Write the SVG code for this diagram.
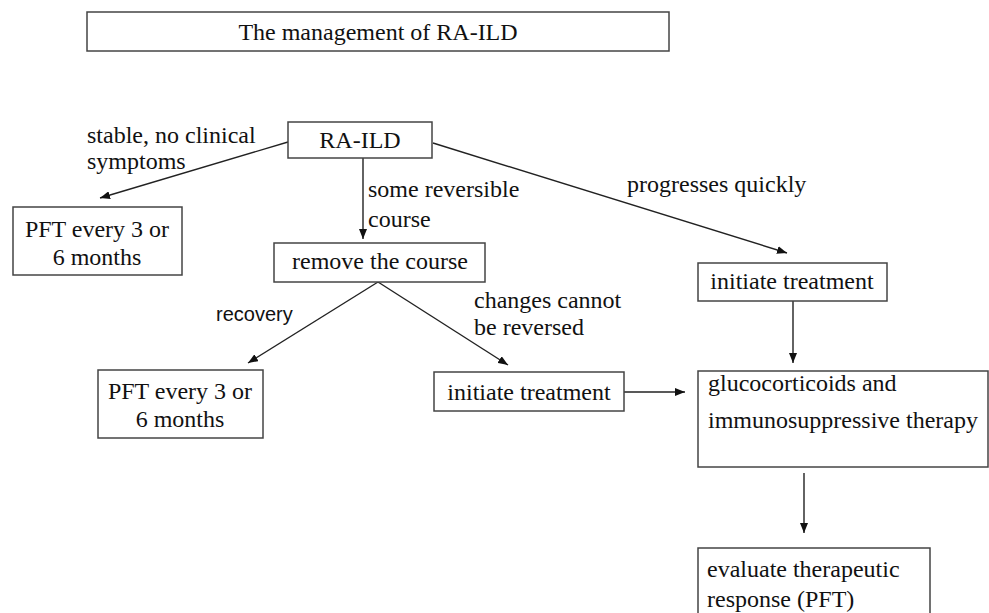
<svg xmlns="http://www.w3.org/2000/svg" width="989" height="613" viewBox="0 0 989 613">
<defs>
<style>
.box{fill:#fff;stroke:#444;stroke-width:1.5}
.t{font-family:"Liberation Serif","Times New Roman",serif;font-size:24px;fill:#111}
.m{text-anchor:middle}
.s{font-family:"Liberation Sans",Arial,sans-serif;font-size:20px;fill:#111}
.c{stroke:#222;stroke-width:1.4;fill:none;marker-end:url(#ah)}
</style>
<marker id="ah" markerUnits="userSpaceOnUse" markerWidth="10" markerHeight="8" refX="10" refY="4" orient="auto">
<path d="M0,0 L10,4 L0,8 z" fill="#111"/>
</marker>
</defs>
<rect width="989" height="613" fill="#fff"/>
<g id="title">
<rect class="box" x="87" y="12" width="582" height="39"/>
<text class="t m" x="378" y="40">The management of RA-ILD</text>
</g>
<g id="connectors">
<line class="c" x1="288" y1="142" x2="100" y2="198"/>
<line class="c" x1="363" y1="158" x2="363" y2="239"/>
<line class="c" x1="433" y1="143" x2="787" y2="253"/>
<line class="c" x1="378" y1="282" x2="248" y2="363"/>
<line class="c" x1="378" y1="282" x2="508" y2="365"/>
<line class="c" x1="624" y1="392" x2="685" y2="392"/>
<line class="c" x1="793" y1="301" x2="793" y2="363"/>
<line class="c" x1="804" y1="473" x2="804" y2="533"/>
</g>
<g id="labels">
<text class="t" x="87" y="143">stable, no clinical</text>
<text class="t" x="87" y="169">symptoms</text>
<text class="t" x="368" y="197">some reversible</text>
<text class="t" x="368" y="227">course</text>
<text class="t" x="627" y="192">progresses quickly</text>
<text class="s" x="216" y="321">recovery</text>
<text class="t" x="474" y="308">changes cannot</text>
<text class="t" x="474" y="335">be reversed</text>
</g>
<g id="ra-ild">
<rect class="box" x="288" y="122" width="144" height="36"/>
<text class="t m" x="360" y="148">RA-ILD</text>
</g>
<g id="pft1">
<rect class="box" x="13" y="207" width="169" height="68"/>
<text class="t m" x="97" y="237">PFT every 3 or</text>
<text class="t m" x="97" y="265">6 months</text>
</g>
<g id="remove">
<rect class="box" x="274" y="243" width="211" height="39"/>
<text class="t m" x="380" y="269">remove the course</text>
</g>
<g id="init-right">
<rect class="box" x="698" y="263" width="189" height="38"/>
<text class="t m" x="792" y="289">initiate treatment</text>
</g>
<g id="pft2">
<rect class="box" x="98" y="370" width="165" height="68"/>
<text class="t m" x="180" y="399">PFT every 3 or</text>
<text class="t m" x="180" y="427">6 months</text>
</g>
<g id="init-mid">
<rect class="box" x="434" y="372" width="190" height="39"/>
<text class="t m" x="529" y="400">initiate treatment</text>
</g>
<g id="gluco">
<rect class="box" x="698" y="371" width="290" height="96"/>
<text class="t" x="708" y="391">glucocorticoids and</text>
<text class="t" x="708" y="428">immunosuppressive therapy</text>
</g>
<g id="evaluate">
<rect class="box" x="698" y="548" width="232" height="70"/>
<text class="t" x="707" y="577">evaluate therapeutic</text>
<text class="t" x="707" y="607">response (PFT)</text>
</g>
</svg>
